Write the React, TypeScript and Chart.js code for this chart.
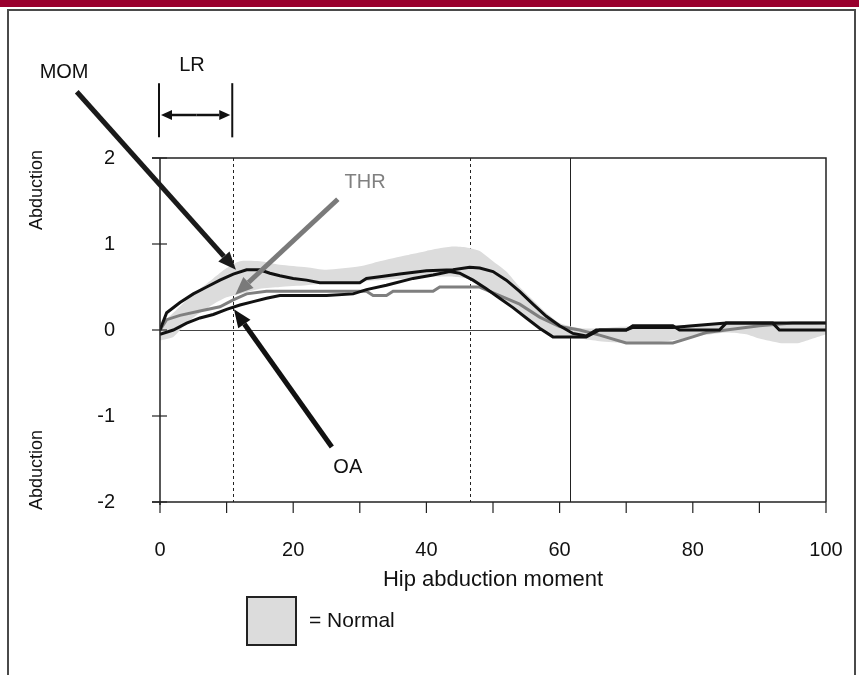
import React, { useEffect, useRef } from 'react';
import { Chart, registerables } from 'chart.js';
Chart.register(...registerables);

// ---- data (x = % of cycle, y = moment) ----
const momX = [0,1,3,5,7,9,11,13,15,16.5,18,20,22,24,30,31,33,36,40,44,46.5,48,50,52,54,56,58,60,62,64,65.5,70,71,77,78,84,85,92,93,100];
const momY = [0,0.2,0.32,0.42,0.5,0.58,0.65,0.7,0.7,0.66,0.63,0.6,0.58,0.55,0.55,0.6,0.62,0.65,0.69,0.7,0.73,0.72,0.68,0.58,0.45,0.3,0.16,0.05,-0.04,-0.07,0,0,0.05,0.05,0,0,0.08,0.08,0,0];

const oaX = [0,2,4,6,8,10,12,14,16,18,20,25,29,31,34,38,41,43.5,45,47,49,51,53,55,57,59,64,66,70,71,77,80,85,92,93,100];
const oaY = [-0.05,0,0.08,0.14,0.18,0.24,0.29,0.33,0.37,0.4,0.4,0.4,0.42,0.47,0.52,0.6,0.64,0.68,0.66,0.58,0.48,0.37,0.26,0.14,0.02,-0.08,-0.08,0,0,0.03,0.03,0.05,0.08,0.08,0.08,0.08];

const thrX = [0,1,3,6,9,11,13,16,20,24,31,32,34,35,41,42,48,51,54,57,60,63,66,70,77,80,82,85,90,95,100];
const thrY = [0,0.12,0.17,0.22,0.27,0.35,0.42,0.45,0.45,0.45,0.45,0.4,0.4,0.45,0.45,0.5,0.5,0.4,0.3,0.15,0.04,0,-0.06,-0.15,-0.15,-0.08,-0.03,0,0.05,0.08,0.08];

const bandX = [0,2,4,6,8,10,12,15,18,22,25,30,33,37,40,42,44,46,48,50,52,54,56,58,60,63,66,70,75,80,85,88,90,93,96,98,100];
const bandUpper = [0.05,0.2,0.35,0.48,0.6,0.72,0.8,0.8,0.76,0.73,0.7,0.74,0.8,0.87,0.92,0.95,0.97,0.96,0.92,0.8,0.68,0.5,0.35,0.2,0.08,0.02,0.02,0.04,0.05,0.06,0.07,0.08,0.08,0.08,0.08,0.07,0.05];
const bandLower = [-0.12,-0.08,0.08,0.2,0.3,0.38,0.42,0.48,0.5,0.52,0.54,0.56,0.58,0.6,0.62,0.62,0.62,0.6,0.52,0.42,0.32,0.2,0.08,-0.02,-0.08,-0.1,-0.13,-0.15,-0.14,-0.08,-0.03,-0.05,-0.1,-0.15,-0.15,-0.1,-0.05];

const xTickLabels = ['0', '20', '40', '60', '80', '100'];
const xTickMarks = [0,10,20,30,40,50,60,70,80,90,100];
const yTickMarks = [-2,-1,0,1,2];
const dashedLines = [11, 46.5];
const solidLines = [61.5];

const FONT = '"Liberation Sans", Arial, Helvetica, sans-serif';

const pts = (xs: number[], ys: number[]) => xs.map((x, i) => ({ x, y: ys[i] }));

function arrow(ctx: CanvasRenderingContext2D, x1: number, y1: number, x2: number, y2: number, color: string, w: number, hl: number, hw: number) {
  const a = Math.atan2(y2 - y1, x2 - x1);
  const bx = x2 - hl * Math.cos(a);
  const by = y2 - hl * Math.sin(a);
  ctx.save();
  ctx.strokeStyle = color;
  ctx.fillStyle = color;
  ctx.lineWidth = w;
  ctx.lineCap = 'butt';
  ctx.beginPath();
  ctx.moveTo(x1, y1);
  ctx.lineTo(bx, by);
  ctx.stroke();
  ctx.beginPath();
  ctx.moveTo(x2, y2);
  ctx.lineTo(bx + (hw / 2) * Math.sin(a), by - (hw / 2) * Math.cos(a));
  ctx.lineTo(bx - (hw / 2) * Math.sin(a), by + (hw / 2) * Math.cos(a));
  ctx.closePath();
  ctx.fill();
  ctx.restore();
}

const decor = {
  id: 'decor',
  beforeDraw(chart: any) {
    const { ctx, width, height } = chart;
    ctx.save();
    ctx.fillStyle = '#ffffff';
    ctx.fillRect(0, 0, width, height);
    ctx.fillStyle = '#99002e';
    ctx.fillRect(0, 0, width, 7);
    ctx.strokeStyle = '#4a4a4a';
    ctx.lineWidth = 2;
    ctx.beginPath();
    ctx.moveTo(8, height + 2);
    ctx.lineTo(8, 10);
    ctx.lineTo(855, 10);
    ctx.lineTo(855, height + 2);
    ctx.stroke();
    ctx.restore();
  },
  beforeDatasetsDraw(chart: any) {
    const { ctx, chartArea: ca, scales } = chart;
    const xs = scales.x, ys = scales.y;
    ctx.save();
    ctx.strokeStyle = '#444';
    ctx.lineWidth = 1;
    const y0 = ys.getPixelForValue(0);
    ctx.beginPath();
    ctx.moveTo(ca.left, y0 + 0.5);
    ctx.lineTo(ca.right, y0 + 0.5);
    ctx.stroke();
    ctx.strokeStyle = '#222';
    ctx.setLineDash([3, 3]);
    dashedLines.forEach(v => {
      const x = Math.round(xs.getPixelForValue(v)) + 0.5;
      ctx.beginPath();
      ctx.moveTo(x, ca.top);
      ctx.lineTo(x, ca.bottom);
      ctx.stroke();
    });
    ctx.setLineDash([]);
    solidLines.forEach(v => {
      const x = Math.round(xs.getPixelForValue(v)) + 0.5;
      ctx.beginPath();
      ctx.moveTo(x, ca.top);
      ctx.lineTo(x, ca.bottom);
      ctx.stroke();
    });
    ctx.restore();
  },
  afterDatasetsDraw(chart: any) {
    const { ctx, chartArea: ca, scales } = chart;
    const xs = scales.x, ys = scales.y;
    const X = (v: number) => xs.getPixelForValue(v);
    const Y = (v: number) => ys.getPixelForValue(v);
    ctx.save();
    ctx.strokeStyle = '#222';
    ctx.lineWidth = 1.5;
    ctx.beginPath();
    ctx.moveTo(ca.left - 8, ca.top);
    ctx.lineTo(ca.right, ca.top);
    ctx.lineTo(ca.right, ca.bottom);
    ctx.moveTo(ca.left - 8, ca.bottom);
    ctx.lineTo(ca.right, ca.bottom);
    ctx.moveTo(ca.left, ca.top);
    ctx.lineTo(ca.left, ca.bottom + 3);
    ctx.stroke();
    ctx.lineWidth = 1.2;
    xTickMarks.forEach(v => {
      const x = X(v);
      ctx.beginPath();
      ctx.moveTo(x, ca.bottom);
      ctx.lineTo(x, ca.bottom + 11);
      ctx.stroke();
    });
    yTickMarks.forEach(v => {
      const y = Y(v);
      ctx.beginPath();
      ctx.moveTo(ca.left - 8, y);
      ctx.lineTo(ca.left + 7, y);
      ctx.stroke();
    });

    // annotations
    ctx.fillStyle = '#111';
    ctx.font = `20px ${FONT}`;
    ctx.textAlign = 'center';
    ctx.textBaseline = 'middle';
    ctx.fillText('MOM', X(-14.4), Y(3.0));
    ctx.fillText('LR', X(4.8), Y(3.08));
    ctx.fillText('OA', X(28.2), Y(-1.6));
    ctx.fillStyle = '#808080';
    ctx.fillText('THR', X(30.8), Y(1.71));

    ctx.strokeStyle = '#111';
    ctx.lineWidth = 2;
    [0, 11].forEach(v => {
      ctx.beginPath();
      ctx.moveTo(X(v) - 1, Y(2.87));
      ctx.lineTo(X(v) - 1, Y(2.24));
      ctx.stroke();
    });
    arrow(ctx, X(5.5), Y(2.5), X(0) + 1, Y(2.5), '#111', 2.5, 11, 10);
    arrow(ctx, X(5.5), Y(2.5), X(11) - 3, Y(2.5), '#111', 2.5, 11, 10);

    arrow(ctx, X(-12.5), Y(2.77), X(11.4), Y(0.70), '#1a1a1a', 5, 18, 15);
    arrow(ctx, X(26.7), Y(1.52), X(11.3), Y(0.41), '#7a7a7a', 5, 18, 15);
    arrow(ctx, X(25.8), Y(-1.36), X(11.1), Y(0.24), '#111', 5, 18, 15);

    // axis titles
    ctx.fillStyle = '#111';
    ctx.font = `18px ${FONT}`;
    ctx.textAlign = 'center';
    ctx.textBaseline = 'middle';
    [190, 470].forEach(cy => {
      ctx.save();
      ctx.translate(37, cy);
      ctx.rotate(-Math.PI / 2);
      ctx.fillText('Abduction', 0, 0);
      ctx.restore();
    });
    ctx.font = `22px ${FONT}`;
    ctx.fillText('Hip abduction moment', (ca.left + ca.right) / 2, 580);

    // legend
    ctx.fillStyle = '#dcdcdc';
    ctx.fillRect(247, 597, 49, 48);
    ctx.strokeStyle = '#222';
    ctx.lineWidth = 2;
    ctx.strokeRect(247, 597, 49, 48);
    ctx.fillStyle = '#111';
    ctx.textAlign = 'left';
    ctx.font = `21px ${FONT}`;
    ctx.fillText('= Normal', 309, 621);
    ctx.restore();
  },
};

export default function App() {
  const ref = useRef<HTMLCanvasElement | null>(null);
  useEffect(() => {
    if (!ref.current) return;
    const chart = new Chart(ref.current, {
      type: 'line',
      data: {
        datasets: [
          { label: 'MOM', data: pts(momX, momY), borderColor: '#111', borderWidth: 3, pointRadius: 0, tension: 0, fill: false },
          { label: 'OA', data: pts(oaX, oaY), borderColor: '#111', borderWidth: 3, pointRadius: 0, tension: 0, fill: false },
          { label: 'THR', data: pts(thrX, thrY), borderColor: '#7f7f7f', borderWidth: 3, pointRadius: 0, tension: 0, fill: false },
          { label: 'Normal upper', data: pts(bandX, bandUpper), borderWidth: 0, borderColor: 'rgba(0,0,0,0)', backgroundColor: '#dcdcdc', pointRadius: 0, tension: 0.2, fill: '+1' },
          { label: 'Normal lower', data: pts(bandX, bandLower), borderWidth: 0, borderColor: 'rgba(0,0,0,0)', pointRadius: 0, tension: 0.2, fill: false },
        ],
      },
      options: {
        animation: false,
        responsive: false,
        layout: { padding: { left: 0, right: 33, top: 158, bottom: 0 } },
        plugins: { legend: { display: false }, tooltip: { enabled: false } },
        scales: {
          x: {
            type: 'linear', min: 0, max: 100,
            afterFit: (s: any) => { s.height = 173; s.paddingLeft = 0; s.paddingRight = 0; },
            grid: { display: false, drawTicks: false },
            border: { display: false },
            ticks: {
              stepSize: 10, autoSkip: false, maxRotation: 0, padding: 36,
              color: '#111', font: { family: FONT, size: 20 },
              callback: (v: any) => (xTickLabels.includes(String(v)) ? String(v) : ''),
            },
          },
          y: {
            type: 'linear', min: -2, max: 2,
            afterFit: (s: any) => { s.width = 160; s.paddingTop = 0; s.paddingBottom = 0; },
            grid: { display: false, drawTicks: false },
            border: { display: false },
            ticks: { stepSize: 1, padding: 45, color: '#111', font: { family: FONT, size: 20 } },
          },
        },
      },
      plugins: [decor],
    });
    return () => chart.destroy();
  }, []);
  return (
    <div style={{ position: 'absolute', left: 0, top: 0, width: 859, height: 675 }}>
      <canvas ref={ref} width={859} height={675} style={{ display: 'block' }} />
    </div>
  );
}
